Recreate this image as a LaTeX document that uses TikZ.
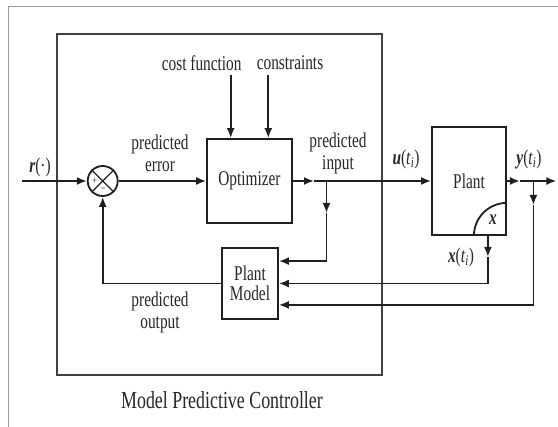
\documentclass[tikz,border=0pt]{standalone}
\usepackage{fontspec}
\setmainfont{Liberation Serif}[FakeStretch=0.73]
\usetikzlibrary{arrows.meta}
\begin{document}
\begin{tikzpicture}[x=1pt,y=-1pt,
  ln/.style={line width=1.8pt, draw=black!88},
  arr/.style={ln, -{Latex[length=10pt,width=8pt]}},
  blk/.style={draw=black!88, line width=1.8pt, rectangle, inner sep=0pt, fill=white},
  lbl/.style={font=\fontsize{21}{22}\selectfont, inner sep=0pt, align=center, text=black!85},
]
\useasboundingbox (0,0) rectangle (558,427);
\draw[black!40, line width=1pt] (8,427) -- (8,6.5) -- (558,6.5);

% controller frame
\node[draw=black!75, line width=1.8pt, rectangle, inner sep=0pt, minimum width=325pt, minimum height=341pt] (mpc) at (219.5,204.5) {};
\node[lbl, font=\fontsize{24.5}{24.5}\selectfont] (cap) at (222,400) {Model Predictive Controller};

% blocks
\node[blk, lbl, minimum width=85pt, minimum height=84pt] (opt) at (249.5,181) {Optimizer};
\node[blk, lbl, font=\fontsize{21}{20.5}\selectfont, minimum width=56pt, minimum height=71pt] (pm) at (250,283.5) {Plant\\Model};
\node[blk, lbl, minimum width=74pt, minimum height=108pt] (plant) at (469,181) {Plant};
\node[circle, draw=black!88, line width=1.8pt, minimum size=30pt, inner sep=0pt] (sum) at (102.7,181) {};
\draw[ln, line width=1.2pt] (sum.north west) -- (sum.south east) (sum.north east) -- (sum.south west);
\node[lbl, font=\fontsize{12}{12}\selectfont] (plus) at (94.5,181) {+};
\node[lbl, font=\fontsize{12}{12}\selectfont] (minus) at (103,190.5) {−};

% plant state corner
\draw[ln] (plant.south east) ++(-33,0) arc[start angle=180, end angle=90, radius=33pt];
\node[lbl, font=\fontsize{21}{21}\bfseries\itshape] (xin) at (493,220) {x};

% labels
\node[lbl] (cf) at (201.7,63) {cost function};
\node[lbl] (cs) at (290,63) {constraints};
\node[lbl] (perr) at (160,153) {predicted\\error};
\node[lbl] (pin) at (338,153) {predicted\\input};
\node[lbl] (pout) at (160,312) {predicted\\output};
\node[lbl] (rl) at (40,167) {\textbf{\textit{r}}(\textperiodcentered)};
\node[lbl] (ul) at (406,159) {\textbf{\textit{u}}(\textit{t}\textsubscript{\textit{i}})};
\node[lbl] (yl) at (529,159) {\textbf{\textit{y}}(\textit{t}\textsubscript{\textit{i}})};
\node[lbl] (xl) at (461,257) {\textbf{\textit{x}}(\textit{t}\textsubscript{\textit{i}})};

% top inputs
\coordinate (cfa) at (230.7,75);
\coordinate (csa) at (268.3,75);
\draw[arr] (cfa) -- (cfa |- opt.north);
\draw[arr] (csa) -- (csa |- opt.north);

% main path
\coordinate (rin) at (22,181);
\draw[arr] (rin) -- (sum.west);
\draw[arr] (sum.east) -- (opt.west);
\coordinate (um) at (314,181);
\coordinate (ub) at (326.5,181);
\coordinate (ubm) at (326.5,213);
\draw[arr] (opt.east) -- (um);
\draw[arr] (um) -- (plant.west);

% plant model inputs
\path (pm.north east) ++(0,14) coordinate (pm1);
\path (pm.south east) ++(0,-15) coordinate (pm3);
\draw[arr] (ub) -- (ubm);
\draw[arr] (ubm) |- (pm1);

\path (plant.south east) ++(-19,0) coordinate (xs) ++(0,21) coordinate (xm);
\draw[arr] (xs) -- (xm);
\draw[arr] (xm) |- (pm.east);

\path (plant.east) ++(13,0) coordinate (ym) ++(13.5,0) coordinate (yb) ++(23,0) coordinate (yend);
\path (yb) ++(0,24) coordinate (ybm);
\draw[arr] (plant.east) -- (ym);
\draw[arr] (ym) -- (yend);
\draw[arr] (yb) -- (ybm);
\draw[arr] (ybm) |- (pm3);

% feedback
\draw[arr] (pm.west) -| (sum.south);
\end{tikzpicture}
\end{document}
